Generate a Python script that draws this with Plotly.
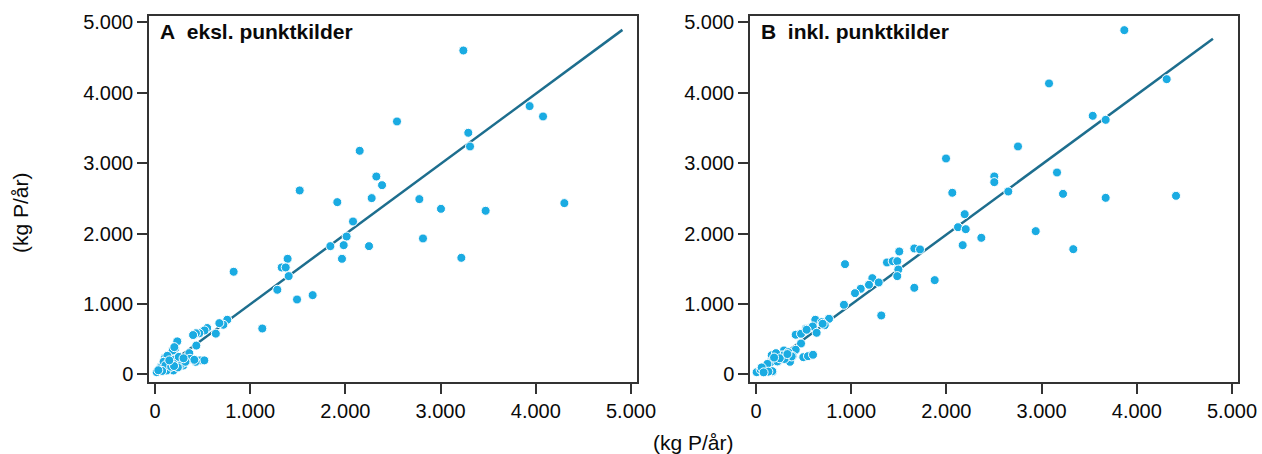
import plotly.graph_objects as go

# ---------------- data ----------------
a_x = [3239, 3935, 4076, 3291, 3309, 2542, 2150, 2325, 2385, 1520, 1915, 2276, 2777, 3004, 3473, 4300,
       2080, 2013, 1842, 1982, 2248, 2815, 1964, 3218, 1393, 1331, 1373, 1404, 1285, 1492, 1656, 826, 1127,
       759, 718, 676, 639, 548, 520, 465, 430, 400,
       434, 360, 234, 210, 186, 203, 360, 368, 473, 518, 427, 413, 297, 256, 220, 263, 193, 140, 105, 130,
       63, 18, 60, 158, 262, 193, 123, 297, 228, 280, 90, 110, 170, 240, 75, 35, 320, 200, 150, 250, 300]
a_y = [4602, 3812, 3665, 3433, 3239, 3594, 3177, 2812, 2689, 2614, 2448, 2505, 2491, 2353, 2325, 2434,
       2173, 1960, 1823, 1837, 1823, 1932, 1643, 1657, 1643, 1520, 1520, 1397, 1203, 1065, 1127, 1459, 653,
       777, 706, 729, 580, 660, 625, 585, 585, 560,
       410, 303, 470, 365, 340, 388, 213, 223, 200, 200, 180, 208, 152, 138, 152, 175, 208, 95, 237, 265,
       109, 33, 95, 152, 199, 57, 57, 128, 152, 152, 180, 130, 110, 100, 50, 60, 180, 120, 200, 250, 230]

b_x = [3869, 3078, 4314, 3537, 3673, 2752, 1996, 3162, 2503, 2503, 2650, 3225, 3673, 4412, 2062, 2192,
       2122, 2203, 2367, 2171, 2938, 3333, 1505, 1663, 1723, 1376, 1436, 1484, 1495, 1484, 935, 1222,
       1187, 1289, 1100, 1040, 1663, 1877, 924, 1316,
       767, 623, 690, 722, 525, 596, 637, 417, 473, 473, 417, 497, 546, 599, 294, 165, 217, 259, 385, 357,
       158, 228, 102, 42, 7, 175, 287, 49, 95, 171, 210, 154, 224, 339, 375, 532, 700,
       120, 60, 300, 250, 190, 330, 130, 80]
b_y = [4891, 4134, 4195, 3674, 3617, 3239, 3068, 2869, 2813, 2732, 2599, 2566, 2509, 2538, 2581, 2277,
       2092, 2064, 1941, 1837, 2036, 1780, 1747, 1790, 1776, 1591, 1609, 1609, 1491, 1397, 1567, 1368,
       1274, 1307, 1217, 1155, 1231, 1340, 990, 838,
       791, 777, 743, 700, 649, 682, 592, 564, 578, 440, 351, 246, 260, 280, 341, 274, 280, 270, 260, 180,
       180, 180, 114, 57, 33, 38, 270, 67, 114, 47, 303, 175, 185, 317, 256, 635, 720,
       150, 100, 220, 230, 240, 290, 40, 30]

line_a_x = [0, 4910]
line_a_y = [0, 4895]
line_b_x = [0, 4800]
line_b_y = [0, 4770]

tick_vals = [0, 1000, 2000, 3000, 4000, 5000]
tick_text = ["0", "1.000", "2.000", "3.000", "4.000", "5.000"]

panel_titles = ["<b>A\u00a0 eksl. punktkilder</b>", "<b>B\u00a0 inkl. punktkilder</b>"]
axis_title = "(kg P/år)"

# ---------------- style ----------------
W, H = 1262, 454
FONT = "Liberation Sans, Arial, sans-serif"
DOT = "#1aabe2"
LINE = "#1d6e8e"
FRAME = "#333333"
TXT = "#0a0a0a"

fig = go.Figure()
fig.add_trace(go.Scatter(x=line_a_x, y=line_a_y, mode="lines", line=dict(color=LINE, width=2.5),
                         xaxis="x", yaxis="y", hoverinfo="skip"))
fig.add_trace(go.Scatter(x=a_x, y=a_y, mode="markers", xaxis="x", yaxis="y",
                         marker=dict(color=DOT, size=9, line=dict(color="white", width=1))))
fig.add_trace(go.Scatter(x=line_b_x, y=line_b_y, mode="lines", line=dict(color=LINE, width=2.5),
                         xaxis="x2", yaxis="y2", hoverinfo="skip"))
fig.add_trace(go.Scatter(x=b_x, y=b_y, mode="markers", xaxis="x2", yaxis="y2",
                         marker=dict(color=DOT, size=9, line=dict(color="white", width=1))))

xr = [-63, 5063]
yr = [-107, 5092]
ydom = [1 - 382 / H, 1 - 16 / H]

def common():
    return dict(tickvals=tick_vals, ticktext=tick_text, automargin=False,
                ticks="outside", ticklen=10, tickwidth=1.5, tickcolor=FRAME,
                showline=True, mirror=True, linecolor=FRAME, linewidth=1.5,
                showgrid=False, zeroline=False, tickfont=dict(size=20, color=TXT, family=FONT))

def xax(dom, anchor):
    d = common()
    d.update(domain=dom, range=xr, anchor=anchor)
    return d

def yax(anchor):
    d = common()
    d.update(domain=ydom, range=yr, anchor=anchor)
    return d

fig.update_layout(
    template="none",
    width=W, height=H, margin=dict(l=0, r=0, t=0, b=0, autoexpand=False),
    paper_bgcolor="white", plot_bgcolor="white", showlegend=False,
    font=dict(family=FONT, color=TXT),
    xaxis=xax([149 / W, 637 / W], "y"),
    yaxis=yax("x"),
    xaxis2=xax([750 / W, 1238 / W], "y2"),
    yaxis2=yax("x2"),
    annotations=[
        dict(text=panel_titles[0], x=158 / W, y=1 - 32 / H, xref="paper", yref="paper",
             xanchor="left", yanchor="middle", showarrow=False, font=dict(size=21, family=FONT, color=TXT)),
        dict(text=panel_titles[1], x=759 / W, y=1 - 32 / H, xref="paper", yref="paper",
             xanchor="left", yanchor="middle", showarrow=False, font=dict(size=21, family=FONT, color=TXT)),
        dict(text=axis_title, x=693 / W, y=1 - 442 / H, xref="paper", yref="paper",
             xanchor="center", yanchor="middle", showarrow=False, font=dict(size=21, family=FONT, color=TXT)),
        dict(text=axis_title, x=20 / W, y=1 - 213 / H, xref="paper", yref="paper", textangle=-90,
             xanchor="center", yanchor="middle", showarrow=False, font=dict(size=21, family=FONT, color=TXT)),
    ],
)

fig.write_html("out.html")
